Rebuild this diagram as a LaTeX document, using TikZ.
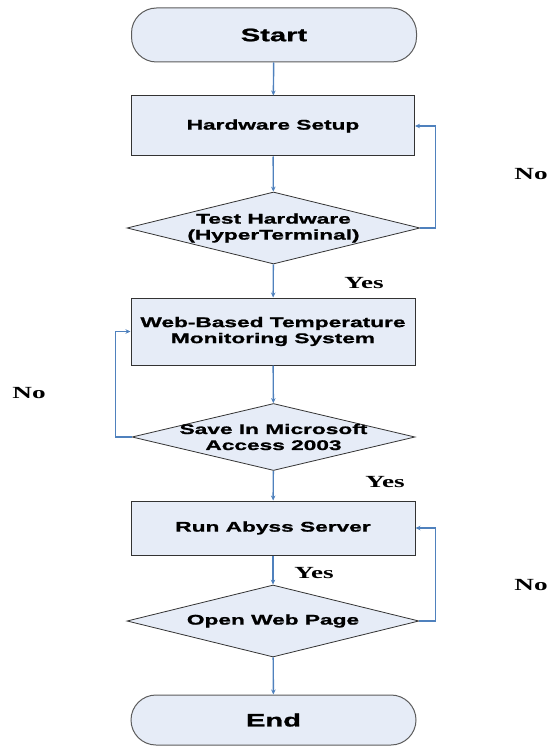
\documentclass[tikz,border=0pt]{standalone}
\usepackage{fontspec}
\usepackage{tikz}
\usetikzlibrary{shapes.geometric,arrows.meta}
\newfontfamily\flowfont[FakeStretch=1.62,BoldFeatures={FakeBold=1.2}]{Liberation Sans}
\newfontfamily\answerfont[FakeStretch=1.6]{Liberation Serif}
\definecolor{boxfill}{HTML}{E6ECF7}
\definecolor{boxline}{HTML}{333333}
\definecolor{flowblue}{HTML}{4F81BD}

\begin{document}
\begin{tikzpicture}[x=1pt,y=-1pt,
    box/.style={draw=boxline,fill=boxfill,line width=1pt,inner sep=0pt,
      minimum width=283pt,align=center,
      font=\flowfont\bfseries\fontsize{14}{16}\selectfont},
    term/.style={box,draw=boxline!80,rounded corners=25pt,
      font=\flowfont\bfseries\fontsize{18}{20}\selectfont},
    test/.style={diamond,draw=boxline,fill=boxfill,line width=0.8pt,inner sep=0pt},
    testtext/.style={align=center,inner sep=0pt,
      font=\flowfont\bfseries\fontsize{14}{16}\selectfont},
    flow/.style={-{Stealth[length=5pt,width=4.5pt]},draw=flowblue,line width=1.4pt},
    answer/.style={font=\answerfont\bfseries\fontsize{17}{19}\selectfont}]
    \useasboundingbox (0,0) rectangle (558,746);

    \path
    (274,35) node[term,minimum width=285pt,minimum height=54pt] (start) {Start}
    (273,126) node[box,minimum height=60pt] (hw) {Hardware Setup}
    (273.5,228) node[test,minimum width=293pt,minimum height=72pt] (test) {}
    (273,331.5) node[box,minimum width=284pt,minimum height=67pt] (web) {Web-Based Temperature\\Monitoring System}
    (273.5,437) node[test,minimum width=283pt,minimum height=67pt] (save) {}
    (273,528) node[box,minimum width=284pt,minimum height=54pt] (abyss) {Run Abyss Server}
    (273,621) node[test,minimum width=292pt,minimum height=72pt] (open) {}
    (273.5,720) node[term,minimum width=285pt,minimum height=50pt] (end) {End}
    ;

    % texts inside the decisions
    \node[testtext] (testT) at (test) {Test Hardware\\(HyperTerminal)};
    \node[testtext] (saveT) at (save) {Save In Microsoft\\Access 2003};
    \node[testtext] (openT) at (open) {Open Web Page};

    \draw[flow] (start) -- (hw);
    \draw[flow] (hw) -- (test);
    \draw[flow] (test.east) -- ++(15,0) |- (hw.east);
    \draw[flow] (test) -- (web);
    \draw[flow] (web) -- (save);
    \draw[flow] (save.west) -- ++(-16,0) |- (web.west);
    \draw[flow] (save) -- (abyss);
    \draw[flow] (abyss) -- (open);
    \draw[flow] (open.east) -- ++(16,0) |- (abyss.east);
    \draw[flow] (open) -- (end);

    \path
    (531,174) node[answer] (no1) {No}
    (364,283) node[answer] (yes1) {Yes}
    (29,393) node[answer] (no2) {No}
    (385,482) node[answer] (yes2) {Yes}
    (314,573) node[answer] (yes3) {Yes}
    (531,585) node[answer] (no3) {No}
    ;
\end{tikzpicture}
\end{document}
